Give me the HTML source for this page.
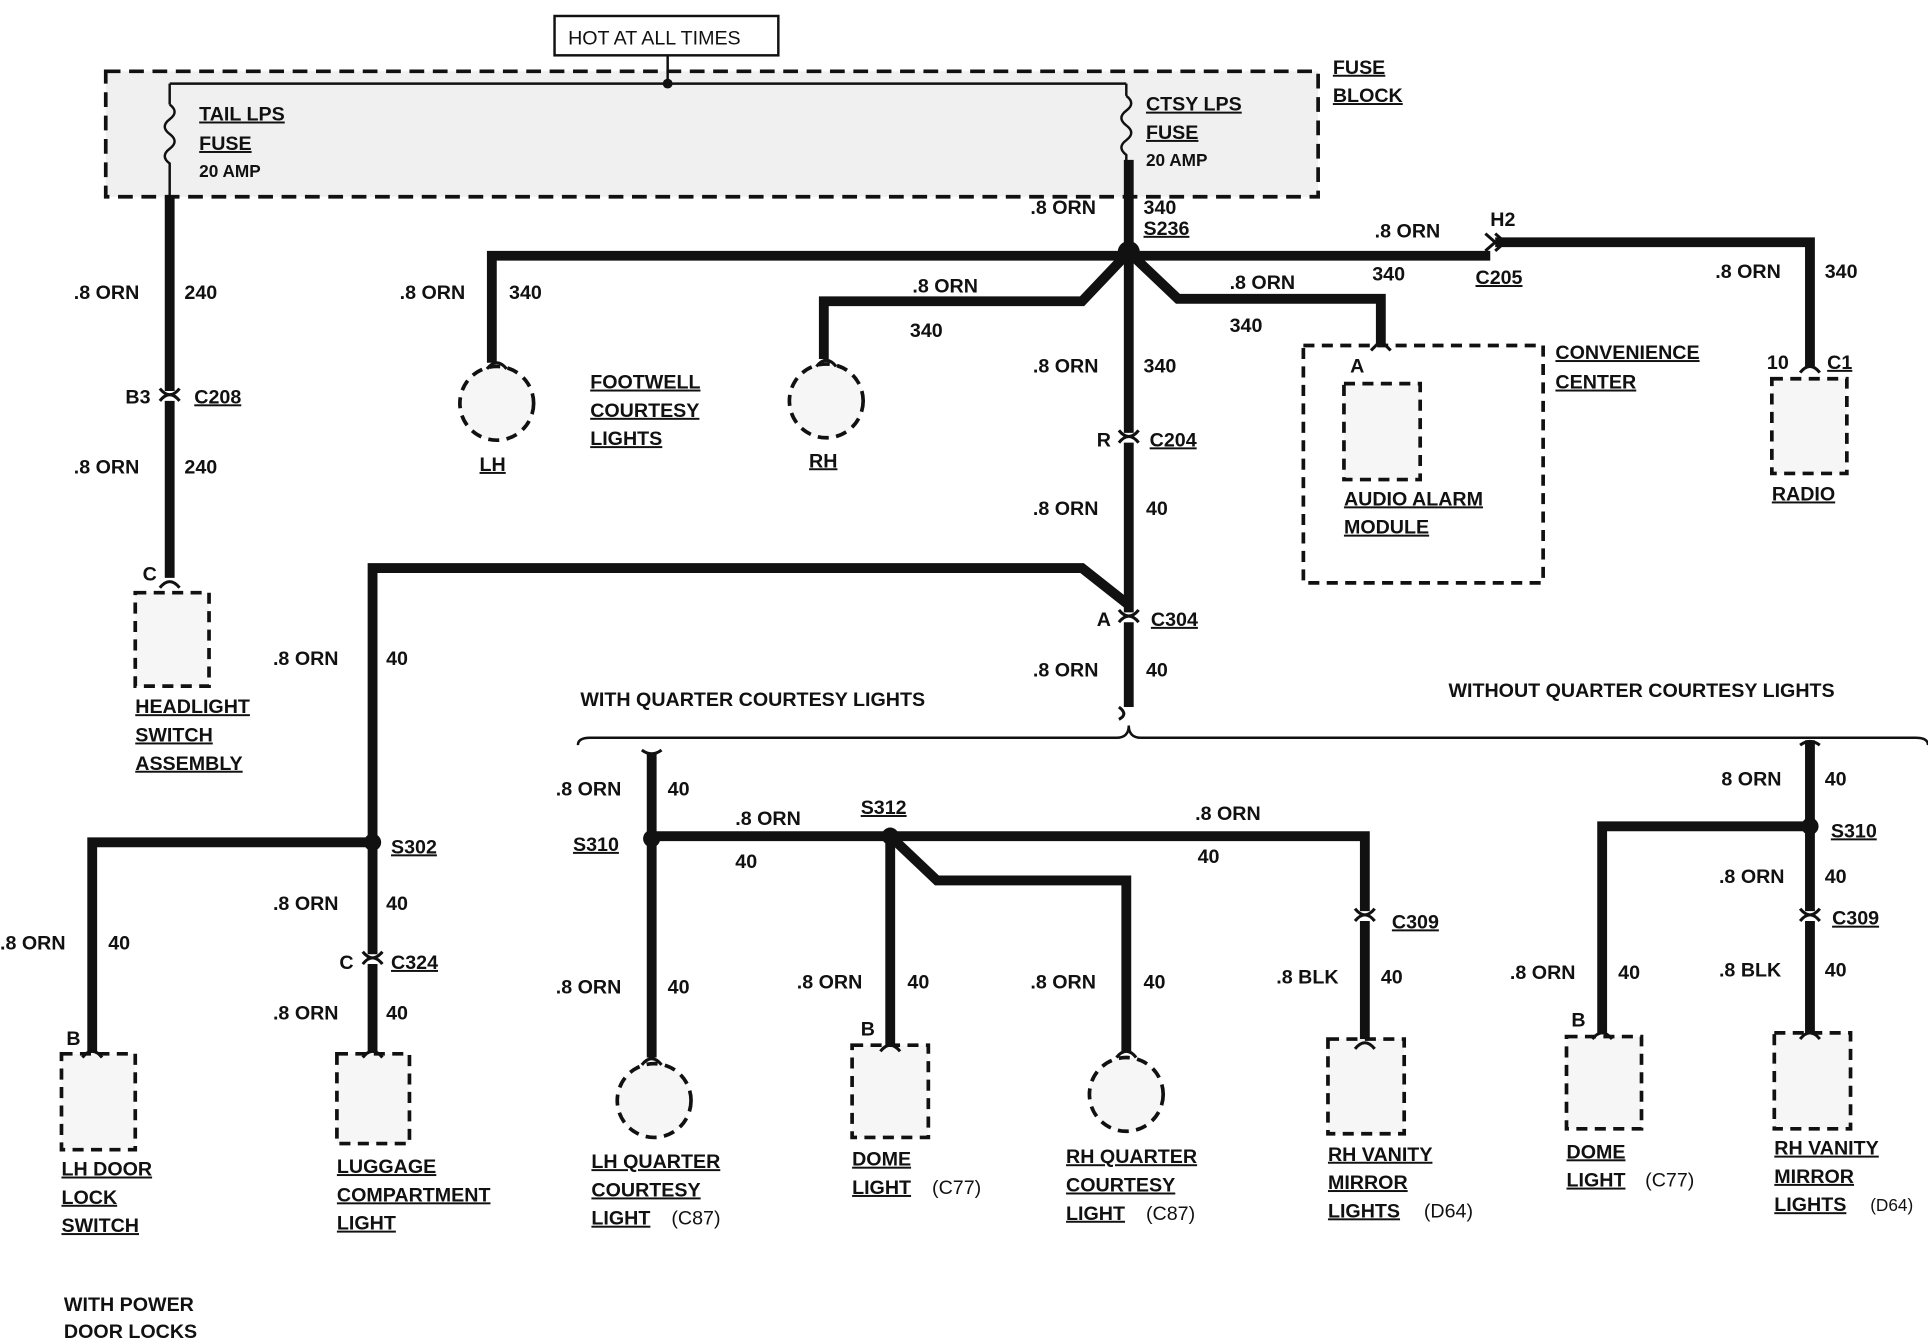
<!DOCTYPE html>
<html><head><meta charset="utf-8"><style>
html,body{margin:0;padding:0;background:#fff}
svg{display:block}
text{font-family:"Liberation Sans",sans-serif;font-size:16px;fill:#111;font-weight:bold}
.u{text-decoration:underline}
</style></head><body>
<svg width="1928" height="1344" viewBox="0 0 1568 1093" preserveAspectRatio="none" xmlns="http://www.w3.org/2000/svg">
<g fill="none" stroke="#111">
<!-- fuse block -->
<rect x="86" y="58" width="986" height="102" fill="#f0f0f0" stroke-width="3" stroke-dasharray="12,7"/>
<rect x="451" y="13" width="182" height="32" fill="#fff" stroke-width="2"/>
<path d="M543 45V68M138 68H916M138 68V85M916 68V78" stroke-width="2"/>
<path d="M138 85q8 6 0 12q-8 6 0 12q8 6 0 12q-8 6 0 12V160M916 78q8 6 0 12q-8 6 0 12q8 6 0 12q-8 6 0 12V160" stroke-width="2"/>
<!-- thick wires -->
<g stroke-width="8">
<path d="M138 160V470"/>
<path d="M918 130V575"/>
<path d="M400 295V208H1212"/>
<path d="M1216 197H1472V298"/>
<path d="M918 205L880 245H670V292"/>
<path d="M918 205L958 243H1123V280"/>
<path d="M303 855V462H880L918 492"/>
<path d="M303 685H75V855"/>
<path d="M530 612V860"/>
<path d="M530 680H1110V850"/>
<path d="M724 680V850"/>
<path d="M724 680L762 716H916V855"/>
<path d="M1472 602V840"/>
<path d="M1472 672H1303V840"/>
</g>
<!-- brace -->
<path d="M470 606q0-6 10-6H908q10 0 10-10q0 10 10 10H1558q10 0 10 6" stroke-width="2"/>
<!-- dashed devices -->
<g stroke-width="3" stroke-dasharray="9,6" fill="#f6f6f6">
<circle cx="404" cy="328" r="30"/>
<circle cx="672" cy="326" r="30"/>
<rect x="110" y="482" width="60" height="76"/>
<rect x="1093" y="312" width="62" height="78"/>
<rect x="1060" y="281" width="195" height="193" fill="none"/>
<rect x="1441" y="308" width="61" height="77"/>
<rect x="50" y="857" width="60" height="78"/>
<rect x="274" y="857" width="59" height="73"/>
<circle cx="532" cy="895" r="30"/>
<rect x="693" y="850" width="62" height="75"/>
<circle cx="916" cy="890" r="30"/>
<rect x="1080" y="845" width="62" height="77"/>
<rect x="1274" y="843" width="61" height="75"/>
<rect x="1443" y="840" width="62" height="78"/>
</g>
<!-- connector gaps -->
<g stroke="#fff" stroke-width="10">
<path d="M138 318V326M918 352V360M918 498V506M303 776V784M1110 741V749M1472 741V749"/>
</g>
<g stroke-width="2.5">
<path d="M130 326q8-10 16 0M130 316q8 10 16 0M910 360q8-10 16 0M910 350q8 10 16 0M910 506q8-10 16 0M910 496q8 10 16 0M295 784q8-10 16 0M295 774q8 10 16 0M1102 749q8-10 16 0M1102 739q8 10 16 0M1464 749q8-10 16 0M1464 739q8 10 16 0"/>
<path d="M1208 190l8 7l-8 7M1216 190l8 7l-8 7"/>
<path d="M130 478q8-10 16 0M396 300q8-10 16 0M664 298q8-10 16 0M1115 285l8 -8l8 8M1464 303q8-10 16 0M67 860q8-10 16 0M295 860q8-10 16 0M522 866q8-10 16 0M522 610q8 6 16 0M716 855q8-10 16 0M908 860q8-10 16 0M1102 853q8-10 16 0M1295 845q8-10 16 0M1464 845q8-10 16 0M1464 606q8-6 16 0M910 575q8 6 0 10"/>
</g>
</g>
<g fill="#111">
<circle cx="543" cy="68" r="4"/>
<circle cx="918" cy="205" r="9"/>
<circle cx="303" cy="685" r="7"/>
<circle cx="530" cy="682" r="7"/>
<circle cx="724" cy="680" r="7"/>
<circle cx="1472" cy="672" r="7"/>
</g>
<text x="462" y="36" style="font-weight:normal">HOT AT ALL TIMES</text>
<text x="1084" y="60" class="u">FUSE</text><text x="1084" y="83" class="u">BLOCK</text>
<text x="162" y="98" class="u">TAIL LPS</text><text x="162" y="122" class="u">FUSE</text><text x="162" y="144" style="font-size:14px">20 AMP</text>
<text x="932" y="90" class="u">CTSY LPS</text><text x="932" y="113" class="u">FUSE</text><text x="932" y="135" style="font-size:14px">20 AMP</text>
<text x="838" y="174">.8 ORN</text><text x="930" y="174">340</text><text x="930" y="191" class="u">S236</text>
<text x="60" y="243">.8 ORN</text><text x="150" y="243">240</text>
<text x="102" y="328">B3</text><text x="158" y="328" class="u">C208</text>
<text x="60" y="385">.8 ORN</text><text x="150" y="385">240</text>
<text x="116" y="472">C</text>
<text x="110" y="580" class="u">HEADLIGHT</text><text x="110" y="603" class="u">SWITCH</text><text x="110" y="626" class="u">ASSEMBLY</text>
<text x="325" y="243">.8 ORN</text><text x="414" y="243">340</text>
<text x="390" y="383" class="u">LH</text>
<text x="480" y="316" class="u">FOOTWELL</text><text x="480" y="339" class="u">COURTESY</text><text x="480" y="362" class="u">LIGHTS</text>
<text x="742" y="238">.8 ORN</text><text x="740" y="274">340</text>
<text x="658" y="380" class="u">RH</text>
<text x="840" y="303">.8 ORN</text><text x="930" y="303">340</text>
<text x="892" y="363">R</text><text x="935" y="363" class="u">C204</text>
<text x="840" y="419">.8 ORN</text><text x="932" y="419">40</text>
<text x="892" y="509">A</text><text x="936" y="509" class="u">C304</text>
<text x="840" y="550">.8 ORN</text><text x="932" y="550">40</text>
<text x="1118" y="193">.8 ORN</text><text x="1212" y="184">H2</text><text x="1200" y="231" class="u">C205</text>
<text x="1000" y="235">.8 ORN</text><text x="1116" y="228">340</text><text x="1000" y="270">340</text>
<text x="1098" y="303">A</text>
<text x="1265" y="292" class="u">CONVENIENCE</text><text x="1265" y="316" class="u">CENTER</text>
<text x="1093" y="411" class="u">AUDIO ALARM</text><text x="1093" y="434" class="u">MODULE</text>
<text x="1395" y="226">.8 ORN</text><text x="1484" y="226">340</text>
<text x="1437" y="300">10</text><text x="1486" y="300" class="u">C1</text>
<text x="1441" y="407" class="u">RADIO</text>
<text x="222" y="541">.8 ORN</text><text x="314" y="541">40</text>
<text x="318" y="694" class="u">S302</text>
<text x="222" y="740">.8 ORN</text><text x="314" y="740">40</text>
<text x="276" y="788">C</text><text x="318" y="788" class="u">C324</text>
<text x="222" y="829">.8 ORN</text><text x="314" y="829">40</text>
<text x="0" y="772">.8 ORN</text><text x="88" y="772">40</text>
<text x="54" y="850">B</text>
<text x="50" y="956" class="u">LH DOOR</text><text x="50" y="979" class="u">LOCK</text><text x="50" y="1002" class="u">SWITCH</text>
<text x="274" y="954" class="u">LUGGAGE</text><text x="274" y="977" class="u">COMPARTMENT</text><text x="274" y="1000" class="u">LIGHT</text>
<text x="52" y="1066">WITH POWER</text><text x="52" y="1088">DOOR LOCKS</text>
<text x="472" y="574">WITH QUARTER COURTESY LIGHTS</text>
<text x="1178" y="567">WITHOUT QUARTER COURTESY LIGHTS</text>
<text x="452" y="647">.8 ORN</text><text x="543" y="647">40</text>
<text x="466" y="692" class="u">S310</text>
<text x="598" y="671">.8 ORN</text><text x="598" y="706">40</text>
<text x="700" y="662" class="u">S312</text>
<text x="972" y="667">.8 ORN</text><text x="974" y="702">40</text>
<text x="452" y="808">.8 ORN</text><text x="543" y="808">40</text>
<text x="648" y="804">.8 ORN</text><text x="738" y="804">40</text>
<text x="700" y="842">B</text>
<text x="838" y="804">.8 ORN</text><text x="930" y="804">40</text>
<text x="1132" y="755" class="u">C309</text>
<text x="1038" y="800">.8 BLK</text><text x="1123" y="800">40</text>
<text x="481" y="950" class="u">LH QUARTER</text><text x="481" y="973" class="u">COURTESY</text><text x="481" y="996" class="u">LIGHT</text><text x="546" y="996" style="font-weight:normal">(C87)</text>
<text x="693" y="948" class="u">DOME</text><text x="693" y="971" class="u">LIGHT</text><text x="758" y="971" style="font-weight:normal">(C77)</text>
<text x="867" y="946" class="u">RH QUARTER</text><text x="867" y="969" class="u">COURTESY</text><text x="867" y="992" class="u">LIGHT</text><text x="932" y="992" style="font-weight:normal">(C87)</text>
<text x="1080" y="944" class="u">RH VANITY</text><text x="1080" y="967" class="u">MIRROR</text><text x="1080" y="990" class="u">LIGHTS</text><text x="1158" y="990" style="font-weight:normal">(D64)</text>
<text x="1400" y="639">8 ORN</text><text x="1484" y="639">40</text>
<text x="1489" y="681" class="u">S310</text>
<text x="1398" y="718">.8 ORN</text><text x="1484" y="718">40</text>
<text x="1490" y="752" class="u">C309</text>
<text x="1228" y="796">.8 ORN</text><text x="1316" y="796">40</text>
<text x="1398" y="794">.8 BLK</text><text x="1484" y="794">40</text>
<text x="1278" y="835">B</text>
<text x="1274" y="942" class="u">DOME</text><text x="1274" y="965" class="u">LIGHT</text><text x="1338" y="965" style="font-weight:normal">(C77)</text>
<text x="1443" y="939" class="u">RH VANITY</text><text x="1443" y="962" class="u">MIRROR</text><text x="1443" y="985" class="u">LIGHTS</text><text x="1521" y="985" style="font-weight:normal;font-size:14px">(D64)</text>
</svg>
</body></html>
